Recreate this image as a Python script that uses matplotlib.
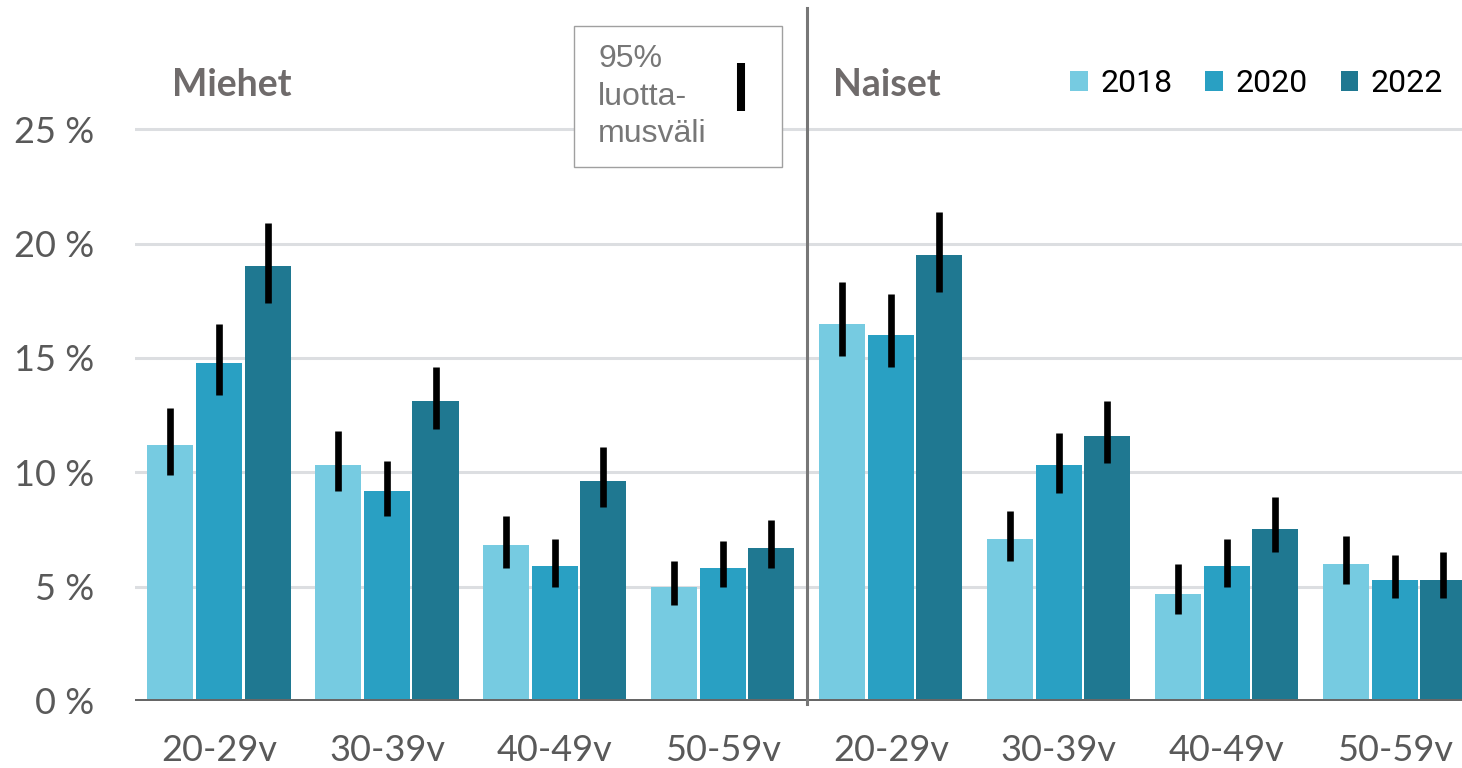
import matplotlib
matplotlib.use("Agg")
import matplotlib.pyplot as plt
from matplotlib.patches import Rectangle, Patch
import numpy as np

# ---- data ----
groups = ["20-29v", "30-39v", "40-49v", "50-59v", "20-29v", "30-39v", "40-49v", "50-59v"]
years = ["2018", "2020", "2022"]
v2018 = [11.2, 10.3, 6.8, 5.0, 16.5, 7.1, 4.7, 6.0]
v2020 = [14.8, 9.2, 5.9, 5.8, 16.0, 10.3, 5.9, 5.3]
v2022 = [19.0, 13.1, 9.6, 6.7, 19.5, 11.6, 7.5, 5.3]
lo2018 = [9.9, 9.2, 5.8, 4.2, 15.1, 6.1, 3.8, 5.1]
hi2018 = [12.8, 11.8, 8.1, 6.1, 18.3, 8.3, 6.0, 7.2]
lo2020 = [13.4, 8.1, 5.0, 5.0, 14.6, 9.1, 5.0, 4.5]
hi2020 = [16.5, 10.5, 7.1, 7.0, 17.8, 11.7, 7.1, 6.4]
lo2022 = [17.4, 11.9, 8.5, 5.8, 17.9, 10.4, 6.5, 4.5]
hi2022 = [20.9, 14.6, 11.1, 7.9, 21.4, 13.1, 8.9, 6.5]
yticks = [0, 5, 10, 15, 20, 25]
panel_titles = ["Miehet", "Naiset"]
ci_label = "95%\nluotta-\nmusväli"

colors = ["#76CBE1", "#29A0C3", "#1F7891"]
W, H = 1462, 768
fig = plt.figure(figsize=(W / 100, H / 100), dpi=100)
ax = fig.add_axes([135 / W, 67 / H, 1 - 135 / W, (701 - 8) / H])

x = np.arange(len(groups))
offs = [-0.289, 0.0, 0.289]
bw = 0.274
vals = [v2018, v2020, v2022]
los = [lo2018, lo2020, lo2022]
his = [hi2018, hi2020, hi2022]
for k in range(3):
    ax.bar(x + offs[k], vals[k], width=bw, color=colors[k], zorder=2, label=years[k])
    v = np.array(vals[k]); lo = np.array(los[k]); hi = np.array(his[k])
    ax.errorbar(x + offs[k], v, yerr=[v - lo, hi - v], fmt="none", ecolor="black",
                elinewidth=4.8, capsize=0, zorder=4)

ax.set_xlim(-0.5, 7.40)
ax.set_ylim(0, 30.3)
for yv in yticks[1:]:
    ax.axhline(yv, color="#DCDEE1", lw=2.2, zorder=1)
ax.axhline(0, color="#666666", lw=3.6, zorder=5)
ax.axvline(3.5, ymin=-0.005, ymax=1, color="#777777", lw=2.2, zorder=5, clip_on=False)

for s in ax.spines.values():
    s.set_visible(False)
ax.set_yticks(yticks)
ax.set_yticklabels([f"{t} %" for t in yticks], fontfamily="Lato", fontsize=26, color="#595959")
ax.set_xticks(x)
ax.set_xticklabels(groups, fontfamily="Lato", fontsize=26, color="#595959")
ax.tick_params(axis="y", length=0, pad=29)
ax.tick_params(axis="x", length=0, pad=24)

title_y = (701 - 97) / 22.84
ax.text(0.077, title_y, panel_titles[0], ha="center", va="baseline", fontfamily="Lato",
        fontweight="bold", fontsize=27, color="#6F6B6B")
ax.text(3.976, title_y, panel_titles[1], ha="center", va="baseline", fontfamily="Lato",
        fontweight="bold", fontsize=27, color="#6F6B6B")

# legend
handles = [Patch(facecolor=c, edgecolor="none") for c in colors]
leg = fig.legend(handles, years, loc="center right", bbox_to_anchor=(1443 / W, 1 - 84 / H),
                 ncol=3, frameon=False, prop={"family": "Roboto", "size": 23},
                 handlelength=0.56, handleheight=0.56, handletextpad=0.38,
                 columnspacing=1.03, borderpad=0, borderaxespad=0)

# CI box
fig.patches.append(Rectangle((574 / W, 1 - 167 / H), (782 - 574) / W, (167 - 26) / H,
                             transform=fig.transFigure, facecolor="white",
                             edgecolor="#A0A0A0", lw=1.0, zorder=6))
fig.text(598 / W, 1 - 44 / H, ci_label, ha="left", va="top", fontfamily="Liberation Sans",
         fontsize=23, color="#777777", linespacing=1.33, zorder=7)
fig.add_artist(plt.Line2D([741 / W, 741 / W], [1 - 63 / H, 1 - 111 / H],
                          transform=fig.transFigure, color="black", lw=5.8, solid_capstyle="butt",
                          zorder=7))

fig.savefig("out.png", dpi=100)
